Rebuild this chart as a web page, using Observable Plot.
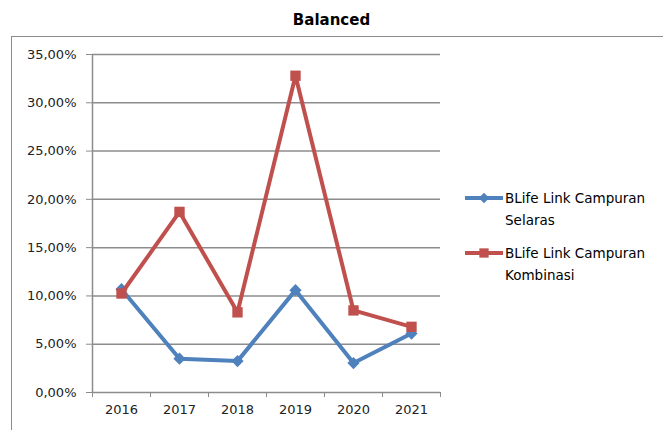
<!DOCTYPE html>
<html>
<head>
<meta charset="utf-8">
<script src="https://cdn.jsdelivr.net/npm/d3@7"></script>
<script src="https://cdn.jsdelivr.net/npm/@observablehq/plot@0.6"></script>
<style>
  body { margin: 0; background: #fff; }
  #wrap { position: relative; width: 663px; height: 430px; overflow: hidden; font-family: "DejaVu Sans", sans-serif; }
  #frame { position: absolute; left: 11px; top: 36px; width: 700px; height: 420px; border-left: 1.5px solid #8c8c8c; border-top: 1.5px solid #8c8c8c; pointer-events: none; }
  #title { position: absolute; left: 0; width: 663px; top: 11px; text-align: center; font-weight: bold; font-size: 15px; color: #000; }
  #legend { position: absolute; left: 465px; top: 187px; font-size: 13.5px; color: #000; }
  .item { display: flex; align-items: flex-start; margin-bottom: 11px; }
  .item svg { flex: none; margin-top: 3px; }
  .item div { line-height: 22px; margin-left: 2px; }
  #chart { position: absolute; left: 0; top: 0; }
</style>
</head>
<body>
<div id="wrap">
  <div id="frame"></div>
  <div id="title">Balanced</div>
  <div id="chart"></div>
  <div id="legend"></div>
</div>
<script>
const years = [2016, 2017, 2018, 2019, 2020, 2021];
const seriesNames = ["BLife Link Campuran Selaras", "BLife Link Campuran Kombinasi"];
const selaras = [10.7, 3.5, 3.25, 10.6, 3.05, 6.1];
const kombinasi = [10.25, 18.7, 8.3, 32.8, 8.5, 6.8];
const colors = ["#4f81bd", "#c0504d"];
const yTicks = [0, 5, 10, 15, 20, 25, 30, 35];

const dataA = years.map((y, i) => ({year: y, value: selaras[i], series: seriesNames[0]}));
const dataB = years.map((y, i) => ({year: y, value: kombinasi[i], series: seriesNames[1]}));
const boundaries = d3.range(years[0] - 0.5, years[years.length - 1] + 1, 1);
const fmt = v => v.toFixed(2).replace(".", ",") + "%";

const chart = Plot.plot({
  width: 663,
  height: 430,
  marginLeft: 92,
  marginRight: 223,
  marginTop: 54,
  marginBottom: 38,
  style: {fontFamily: "DejaVu Sans, sans-serif", fontSize: "13px", color: "#000", background: "transparent"},
  x: {type: "linear", domain: [years[0] - 0.5, years[years.length - 1] + 0.5]},
  y: {domain: [0, 35]},
  marks: [
    Plot.ruleY(yTicks, {stroke: "#8c8c8c", strokeWidth: 1.5}),
    Plot.ruleX([years[0] - 0.5], {stroke: "#8c8c8c", strokeWidth: 1.5}),
    Plot.axisY({ticks: yTicks, tickFormat: fmt, tickSize: 6, tickPadding: 10, stroke: "#8c8c8c", label: null, fill: "#222"}),
    Plot.axisX({ticks: boundaries, tickFormat: () => "", tickSize: 5, stroke: "#8c8c8c", label: null}),
    Plot.axisX({ticks: years, tickFormat: d => String(d), tickSize: 0, tickPadding: 12, label: null, fill: "#222"}),
    Plot.line(dataA, {x: "year", y: "value", stroke: colors[0], strokeWidth: 4}),
    Plot.dot(dataA, {x: "year", y: "value", fill: colors[0], symbol: "diamond2", r: 5.5, stroke: "none"}),
    Plot.line(dataB, {x: "year", y: "value", stroke: colors[1], strokeWidth: 4}),
    Plot.dot(dataB, {x: "year", y: "value", fill: colors[1], symbol: "square2", r: 6.6, stroke: "none"})
  ]
});
document.getElementById("chart").appendChild(chart);

const legend = d3.select("#legend");
seriesNames.forEach((name, i) => {
  const item = legend.append("div").attr("class", "item");
  const svg = item.append("svg").attr("width", 38).attr("height", 16);
  svg.append("line").attr("x1", 0).attr("x2", 38).attr("y1", 8).attr("y2", 8)
    .attr("stroke", colors[i]).attr("stroke-width", 4);
  const sym = d3.symbol().type(i === 0 ? d3.symbolDiamond2 : d3.symbolSquare2).size(i === 0 ? 70 : 110);
  svg.append("path").attr("d", sym()).attr("transform", "translate(19,8)").attr("fill", colors[i]);
  const words = name.split(" ");
  item.append("div").html(words.slice(0, 3).join(" ") + "<br>" + words.slice(3).join(" "));
});
</script>
</body>
</html>
